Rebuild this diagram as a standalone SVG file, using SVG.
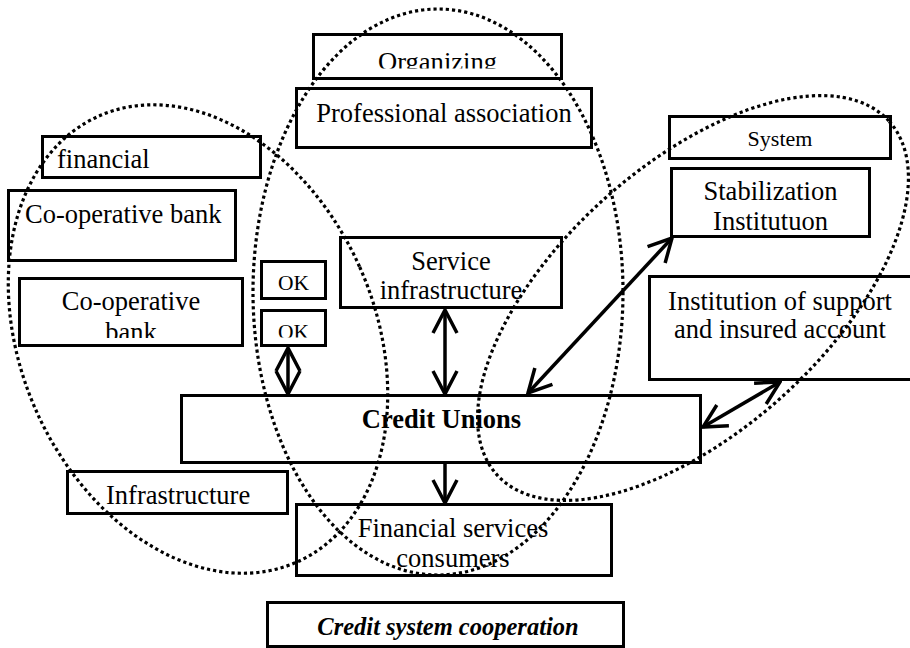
<svg xmlns="http://www.w3.org/2000/svg" width="910" height="648" viewBox="0 0 910 648">
  <style>
    .box { fill: #ffffff; stroke: #000000; stroke-width: 3; }
    .t { font-family: "Liberation Serif", "Times New Roman", serif; font-size: 26.5px; fill: #000000; }
    .c { text-anchor: middle; }
    .s25 { font-size: 25px; }
    .s22 { font-size: 22px; }
    .s21 { font-size: 21.5px; }
    .caption { font-size: 24.5px; font-weight: bold; font-style: italic; }
    .link { fill: none; stroke: #000000; stroke-width: 3.5; marker-start: url(#head); marker-end: url(#head); }
    .one { fill: none; stroke: #000000; stroke-width: 3.5; marker-end: url(#head); }
    .zone { fill: none; stroke: #000000; stroke-width: 3.2; stroke-dasharray: 3.2 3; }
  </style>
  <defs>
    <marker id="head" viewBox="-26 -14 28 28" markerWidth="28" markerHeight="28" refX="0" refY="0" orient="auto-start-reverse" markerUnits="userSpaceOnUse">
      <path d="M-23,-12 L0,0 L-23,12" fill="none" stroke="#000000" stroke-width="3.5" stroke-linejoin="miter"/>
    </marker>
    <clipPath id="clipOrg"><rect x="313" y="34" width="249" height="34.5"/></clipPath>
    <clipPath id="clipBank"><rect x="19" y="278" width="224" height="60"/></clipPath>
    <clipPath id="clipOk2"><rect x="261" y="310" width="65" height="27.5"/></clipPath>
  </defs>

  <!-- boxes -->
  <g id="organizing">
    <rect class="box" x="313.5" y="34.5" width="248" height="44"/>
    <text class="t s25" x="378" y="70" textLength="119" lengthAdjust="spacingAndGlyphs" clip-path="url(#clipOrg)">Organizing</text>
  </g>
  <g id="professional-association">
    <rect class="box" x="296.5" y="88.5" width="295" height="59"/>
    <text class="t c" x="444" y="122">Professional association</text>
  </g>
  <g id="financial">
    <rect class="box" x="42.5" y="136.5" width="218" height="41"/>
    <text class="t" x="57" y="168">financial</text>
  </g>
  <g id="coop-bank-1">
    <rect class="box" x="8.5" y="190.5" width="227" height="70"/>
    <text class="t" x="25" y="223">Co-operative bank</text>
  </g>
  <g id="coop-bank-2">
    <rect class="box" x="19.5" y="278.5" width="223" height="67"/>
    <text class="t c" x="131" y="310">Co-operative</text>
    <text class="t c" x="131" y="341" clip-path="url(#clipBank)">bank</text>
  </g>
  <g id="ok-1">
    <rect class="box" x="261.5" y="261.5" width="64" height="37"/>
    <text class="t c s21" x="293.5" y="290">OK</text>
  </g>
  <g id="ok-2">
    <rect class="box" x="261.5" y="310.5" width="64" height="35"/>
    <text class="t c s21" x="293.5" y="339" clip-path="url(#clipOk2)">OK</text>
  </g>
  <g id="service-infrastructure">
    <rect class="box" x="340.5" y="237.5" width="221" height="70"/>
    <text class="t c" x="451" y="270">Service</text>
    <text class="t c" x="451" y="299">infrastructure</text>
  </g>
  <g id="credit-unions">
    <rect class="box" x="181.5" y="395.5" width="519" height="67"/>
    <text class="t c" x="441.5" y="428" font-weight="bold">Credit Unions</text>
  </g>
  <g id="infrastructure">
    <rect class="box" x="67.5" y="471.5" width="220" height="42"/>
    <text class="t" x="106" y="504">Infrastructure</text>
  </g>
  <g id="financial-services-consumers">
    <rect class="box" x="296.5" y="504.5" width="315" height="71"/>
    <text class="t c" x="453" y="537">Financial services</text>
    <text class="t c" x="453" y="567">consumers</text>
  </g>
  <g id="credit-system-cooperation">
    <rect class="box" x="267.5" y="602.5" width="356" height="44"/>
    <text class="t c caption" x="448" y="635">Credit system cooperation</text>
  </g>
  <g id="system">
    <rect class="box" x="669.5" y="116.5" width="221" height="42"/>
    <text class="t c s22" x="780" y="146">System</text>
  </g>
  <g id="stabilization-institution">
    <rect class="box" x="671.5" y="168.5" width="198" height="68"/>
    <text class="t c" x="770.5" y="200">Stabilization</text>
    <text class="t c" x="770.5" y="230">Institutuon</text>
  </g>
  <g id="support-institution">
    <rect class="box" x="649.5" y="276.5" width="270" height="103"/>
    <text class="t c" x="780" y="310">Institution of support</text>
    <text class="t c" x="780" y="338">and insured account</text>
  </g>

  <!-- connectors -->
  <g id="connectors">
    <path class="link" d="M288,348 L288,394"/>
    <path class="link" d="M445,310 L445,394"/>
    <path class="one" d="M445,464 L445,503"/>
    <path class="link" d="M528,393 L672,238"/>
    <path class="link" d="M703,427 L780,382"/>
  </g>

  <!-- dotted groupings -->
  <g id="zones">
    <ellipse class="zone" cx="198" cy="339" rx="177" ry="244" transform="rotate(-24 198 339)"/>
    <ellipse class="zone" cx="438" cy="292" rx="185" ry="283"/>
    <ellipse class="zone" cx="693" cy="298" rx="264" ry="133" transform="rotate(-42 693 298)"/>
  </g>
</svg>
